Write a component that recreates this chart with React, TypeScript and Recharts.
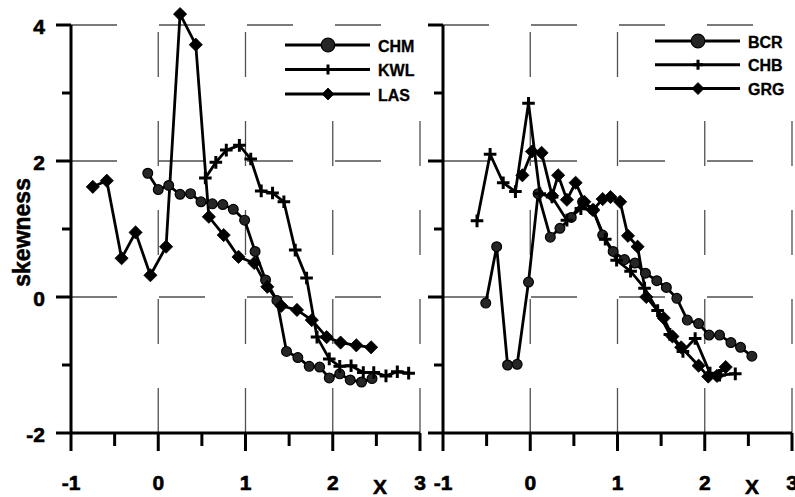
import React from 'react';
import { LineChart, Line, XAxis, YAxis, ReferenceLine, Legend } from 'recharts';

// ---- axes / grid values ----
const X_TICKS = [-1, -0.5, 0, 0.5, 1, 1.5, 2, 2.5, 3];
const Y_TICKS = [-2, -1, 0, 1, 2, 3, 4];
const GRID_X = [0, 1, 2, 3];
const GRID_Y = [0, 2, 4];
const X_DOMAIN: [number, number] = [-1, 3];
const Y_DOMAIN: [number, number] = [-2, 4.3];
const Y_AXIS_TOP = 4;

// ---- left panel ----
const CHM_X = [-0.12, 0.0, 0.12, 0.25, 0.37, 0.49, 0.62, 0.74, 0.86, 0.99, 1.11, 1.23, 1.36, 1.47, 1.6, 1.73, 1.85, 1.96, 2.08, 2.2, 2.33, 2.45];
const CHM_Y = [1.82, 1.58, 1.64, 1.51, 1.52, 1.4, 1.37, 1.36, 1.29, 1.13, 0.67, 0.25, -0.05, -0.8, -0.89, -1.02, -1.03, -1.19, -1.13, -1.22, -1.25, -1.2];

const KWL_X = [0.54, 0.66, 0.78, 0.93, 1.06, 1.18, 1.31, 1.44, 1.57, 1.7, 1.82, 1.96, 2.08, 2.21, 2.35, 2.47, 2.61, 2.74, 2.87];
const KWL_Y = [1.75, 1.98, 2.16, 2.23, 2.03, 1.56, 1.53, 1.4, 0.69, 0.28, -0.59, -0.91, -1.02, -1.01, -1.11, -1.11, -1.16, -1.1, -1.12];

const LAS_X = [-0.75, -0.59, -0.42, -0.26, -0.09, 0.09, 0.25, 0.43, 0.58, 0.75, 0.92, 1.1, 1.25, 1.41, 1.59, 1.76, 1.93, 2.09, 2.27, 2.44];
const LAS_Y = [1.62, 1.71, 0.57, 0.95, 0.32, 0.74, 4.16, 3.71, 1.18, 0.91, 0.59, 0.5, 0.15, -0.13, -0.19, -0.34, -0.59, -0.67, -0.71, -0.74];

// ---- right panel ----
const BCR_X = [-0.51, -0.385, -0.26, -0.15, -0.02, 0.09, 0.23, 0.34, 0.47, 0.6, 0.72, 0.83, 0.95, 1.08, 1.2, 1.32, 1.45, 1.56, 1.68, 1.8, 1.93, 2.05, 2.17, 2.3, 2.41, 2.54];
const BCR_Y = [-0.09, 0.74, -1.0, -0.99, 0.22, 1.52, 0.88, 1.01, 1.17, 1.4, 1.28, 0.91, 0.67, 0.55, 0.5, 0.35, 0.24, 0.14, -0.02, -0.34, -0.39, -0.56, -0.56, -0.67, -0.74, -0.87];

const CHB_X = [-0.61, -0.46, -0.31, -0.17, -0.02, 0.11, 0.25, 0.42, 0.58, 0.72, 0.86, 0.99, 1.15, 1.31, 1.46, 1.6, 1.75, 1.89, 2.06, 2.17, 2.35];
const CHB_Y = [1.12, 2.1, 1.68, 1.55, 2.85, 1.52, 1.47, 1.13, 1.3, 1.28, 0.85, 0.54, 0.38, 0.13, -0.2, -0.55, -0.8, -0.61, -1.12, -1.15, -1.13];

const GRG_X = [-0.09, 0.02, 0.13, 0.25, 0.32, 0.42, 0.52, 0.62, 0.72, 0.83, 0.92, 1.03, 1.12, 1.23, 1.33, 1.53, 1.63, 1.73, 1.93, 2.04, 2.14, 2.24];
const GRG_Y = [1.79, 2.14, 2.12, 1.49, 1.79, 1.43, 1.68, 1.4, 1.28, 1.44, 1.47, 1.4, 0.9, 0.74, 0.0, -0.31, -0.58, -0.74, -1.01, -1.17, -1.16, -1.03];

type Kind = 'circle' | 'plus' | 'diamond';
interface Series { name: string; xs: number[]; ys: number[]; kind: Kind }

const LEFT_SERIES: Series[] = [
  { name: 'CHM', xs: CHM_X, ys: CHM_Y, kind: 'circle' },
  { name: 'KWL', xs: KWL_X, ys: KWL_Y, kind: 'plus' },
  { name: 'LAS', xs: LAS_X, ys: LAS_Y, kind: 'diamond' },
];
const RIGHT_SERIES: Series[] = [
  { name: 'BCR', xs: BCR_X, ys: BCR_Y, kind: 'circle' },
  { name: 'CHB', xs: CHB_X, ys: CHB_Y, kind: 'plus' },
  { name: 'GRG', xs: GRG_X, ys: GRG_Y, kind: 'diamond' },
];

const FONT = 'Arial, "Liberation Sans", Helvetica, sans-serif';
const H = 497;
const TXT = { fontWeight: 700 as const, fontFamily: FONT };

function marker(kind: Kind, cx: number, cy: number, big: boolean) {
  if (kind === 'circle') {
    const r = big ? 6.8 : 4.9;
    return <circle cx={cx} cy={cy} r={r} fill="#262626" stroke="#000" strokeWidth={1.2} />;
  }
  if (kind === 'plus') {
    const s = big ? 5 : 6.3;
    return (
      <path d={`M${cx - s},${cy}H${cx + s}M${cx},${cy - s}V${cy + s}`} stroke="#000" strokeWidth={3} fill="none" />
    );
  }
  const s = big ? 6 : 6.6;
  return <path d={`M${cx},${cy - s}L${cx + s},${cy}L${cx},${cy + s}L${cx - s},${cy}Z`} fill="#000" stroke="#000" strokeWidth={0.8} />;
}

const makeDot = (kind: Kind) => (props: any) => {
  const { cx, cy, index } = props;
  if (cx == null || cy == null) return <g key={`e${index}`} />;
  return <g key={`d${index}`}>{marker(kind, cx, cy, false)}</g>;
};

const toPoints = (s: Series) => s.xs.map((x, i) => ({ x, y: s.ys[i] }));

const renderXTick = (props: any) => {
  const { x, y, payload } = props;
  const v = payload.value as number;
  const major = Number.isInteger(v);
  const len = major ? 18 : 13;
  return (
    <g>
      <line x1={x} x2={x} y1={y} y2={y + len} stroke="#000" strokeWidth={3} />
      {major && (
        <text x={x} y={y + 49} textAnchor="middle" dominantBaseline="central" style={TXT} fontSize={21} fill="#000" stroke="#000" strokeWidth={0.6}>
          {v}
        </text>
      )}
    </g>
  );
};

const makeYTick = (showLabel: boolean) => (props: any) => {
  const { x, y, payload } = props;
  const v = payload.value as number;
  const major = v % 2 === 0;
  const len = major ? 15 : 9;
  return (
    <g>
      <line x1={x - len} x2={x} y1={y} y2={y} stroke="#000" strokeWidth={3} />
      {showLabel && major && (
        <text x={x - 26} y={y + 1} textAnchor="end" dominantBaseline="central" style={TXT} fontSize={21} fill="#000" stroke="#000" strokeWidth={0.6}>
          {v}
        </text>
      )}
    </g>
  );
};

const renderXLabel = (p: any) => {
  const vb = p.viewBox || {};
  return (
    <text x={vb.x + vb.width - 40} y={vb.y + 53} textAnchor="middle" dominantBaseline="central" style={TXT} fontSize={21} fill="#000" stroke="#000" strokeWidth={0.5}>
      X
    </text>
  );
};

const renderYLabel = (p: any) => {
  const vb = p.viewBox || {};
  const cy = vb.y + (vb.height * (Y_DOMAIN[1] - 0.95)) / (Y_DOMAIN[1] - Y_DOMAIN[0]);
  const cx = vb.x + 22;
  return (
    <text x={cx} y={cy} transform={`rotate(-90 ${cx} ${cy})`} textAnchor="middle" dominantBaseline="central" style={TXT} fontSize={23} fill="#000" stroke="#000" strokeWidth={0.5}>
      skewness
    </text>
  );
};

const makeLegend = (series: Series[], rowGap: number) => (props: any) => {
  const payload = (props && props.payload) || [];
  const items = payload.length ? payload.map((it: any) => String(it.value)) : series.map((s) => s.name);
  return (
    <div style={{ background: '#fff', width: 146, height: 76 }}>
      <svg width={146} height={76}>
        {items.map((name: string, i: number) => {
          const s = series.find((q) => q.name === name) || series[i];
          const cy = 14 + i * rowGap;
          return (
            <g key={name}>
              <line x1={5} x2={90} y1={cy} y2={cy} stroke="#000" strokeWidth={3} />
              {marker(s.kind, 48, cy, true)}
              <text x={98} y={cy + 1} dominantBaseline="central" style={TXT} fontSize={16} fill="#000" stroke="#000" strokeWidth={0.3}>
                {name}
              </text>
            </g>
          );
        })}
      </svg>
    </div>
  );
};

interface PanelProps {
  left: number;
  width: number;
  axisWidth: number;
  rightMargin: number;
  series: Series[];
  showYLabels: boolean;
  legendLeft: number;
  legendTop: number;
  legendGap: number;
}

function Panel({ left, width, axisWidth, rightMargin, series, showYLabels, legendLeft, legendTop, legendGap }: PanelProps) {
  return (
    <div style={{ position: 'absolute', left, top: 0, width, height: H }}>
      <LineChart width={width} height={H} margin={{ top: 4.6, right: rightMargin, bottom: 0, left: 0 }}>
        <XAxis
          type="number"
          dataKey="x"
          domain={X_DOMAIN}
          ticks={X_TICKS}
          interval={0}
          height={64}
          tickSize={0}
          tickMargin={0}
          tickLine={false}
          axisLine={{ stroke: '#000', strokeWidth: 3 }}
          tick={renderXTick}
          label={renderXLabel}
        />
        <YAxis
          type="number"
          domain={Y_DOMAIN}
          ticks={Y_TICKS}
          interval={0}
          width={axisWidth}
          tickSize={0}
          tickMargin={0}
          tickLine={false}
          axisLine={false}
          tick={makeYTick(showYLabels)}
          label={showYLabels ? renderYLabel : undefined}
        />
        {GRID_Y.map((v) => (
          <ReferenceLine key={`h${v}`} segment={[{ x: X_DOMAIN[0], y: v }, { x: X_DOMAIN[1], y: v }]} stroke="#505050" strokeWidth={1.3} strokeDasharray="46 42" />
        ))}
        {GRID_X.map((v) => (
          <ReferenceLine key={`v${v}`} segment={[{ x: v, y: Y_DOMAIN[0] }, { x: v, y: Y_AXIS_TOP }]} stroke="#505050" strokeWidth={1.3} strokeDasharray="45 44" />
        ))}
        <ReferenceLine segment={[{ x: X_DOMAIN[0], y: Y_DOMAIN[0] }, { x: X_DOMAIN[0], y: Y_AXIS_TOP }]} stroke="#000" strokeWidth={3} />
        {series.map((s) => (
          <Line
            key={s.name}
            name={s.name}
            data={toPoints(s)}
            dataKey="y"
            type="linear"
            stroke="#000"
            strokeWidth={2.8}
            dot={makeDot(s.kind)}
            activeDot={false}
            legendType="line"
            isAnimationActive={false}
          />
        ))}
        <Legend
          layout="vertical"
          align="center"
          verticalAlign="middle"
          wrapperStyle={{ left: legendLeft, top: legendTop, width: 146, height: 76 }}
          content={makeLegend(series, legendGap)}
        />
      </LineChart>
    </div>
  );
}

export default function App() {
  return (
    <div style={{ position: 'absolute', left: 0, top: 0, width: 795, height: H, background: '#fff', overflow: 'hidden' }}>
      <Panel left={0} width={440} axisWidth={71} rightMargin={20} series={LEFT_SERIES} showYLabels legendLeft={280} legendTop={31} legendGap={24.5} />
      <Panel left={420} width={375} axisWidth={23} rightMargin={3} series={RIGHT_SERIES} showYLabels={false} legendLeft={230} legendTop={27} legendGap={23.8} />
    </div>
  );
}
